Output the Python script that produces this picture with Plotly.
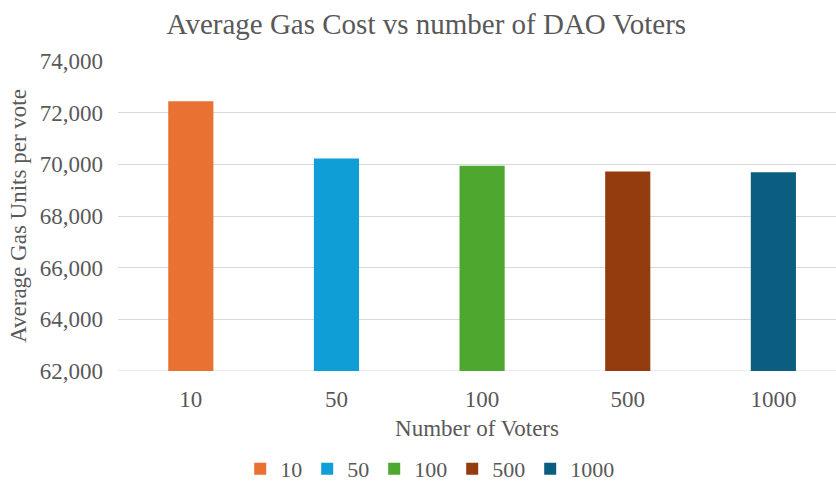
import plotly.graph_objects as go

categories = ["10", "50", "100", "500", "1000"]
values = [72440, 70225, 69945, 69725, 69690]
colors = ["#E97132", "#0F9ED5", "#4EA72E", "#953C0F", "#0B5E80"]
y_ticks = [62000, 64000, 66000, 68000, 70000, 72000, 74000]

FONT = "Liberation Serif"
GREY = "#595959"

fig = go.Figure()
for c, v, col in zip(categories, values, colors):
    fig.add_trace(go.Bar(x=[c], y=[v], name=c, marker_color=col,
                         marker_line_width=0, width=0.31))

fig.update_layout(
    width=836, height=486,
    margin=dict(l=118, r=0, t=61, b=115, autoexpand=False),
    paper_bgcolor="white", plot_bgcolor="white",
    barmode="overlay",
    font=dict(family=FONT, color=GREY, size=23),
    title=dict(text="Average Gas Cost vs number of DAO Voters",
               x=0.510, xanchor="center", y=1 - 24 / 486, yanchor="middle",
               font=dict(family=FONT, size=29, color=GREY)),
    showlegend=True,
    legend=dict(orientation="h", xref="container", x=0.514, xanchor="center",
                yref="container", y=1 - 469 / 486, yanchor="middle",
                font=dict(family=FONT, size=22, color=GREY), tracegroupgap=0),
)
fig.update_xaxes(type="category", categoryorder="array", categoryarray=categories,
                 range=[-0.5, 4.43], showgrid=False, showline=False, automargin=False,
                 ticks="", ticklabelstandoff=12,
                 tickfont=dict(family=FONT, size=23, color=GREY),
                 title=dict(text="Number of Voters", standoff=8,
                            font=dict(family=FONT, size=23, color=GREY)))
fig.update_yaxes(range=[62000, 74000], tickvals=y_ticks, tickformat=",",
                 showgrid=True, gridcolor="#D9D9D9", gridwidth=1, automargin=False,
                 zeroline=False, showline=False, ticks="", ticklabelstandoff=14,
                 tickfont=dict(family=FONT, size=23, color=GREY),
                 title=dict(text="Average Gas Units per vote", standoff=6,
                            font=dict(family=FONT, size=23, color=GREY)))
fig.add_shape(type="line", xref="paper", yref="y", x0=0, x1=1, y0=62000, y1=62000,
              line=dict(color="#D9D9D9", width=1), layer="below")

fig.write_html("out.html")
